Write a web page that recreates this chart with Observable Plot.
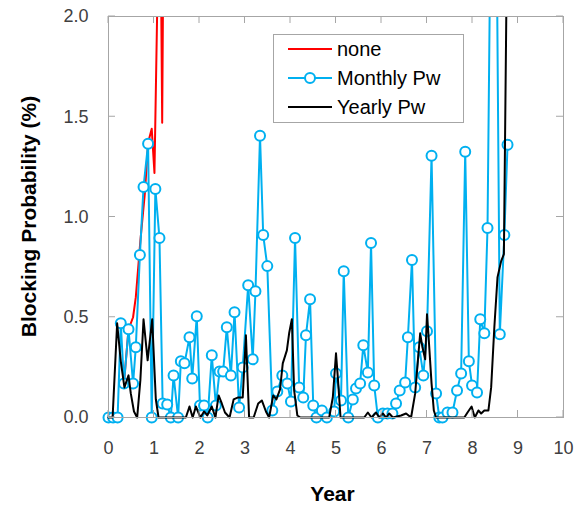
<!DOCTYPE html>
<html>
<head>
<meta charset="utf-8">
<script src="https://cdn.jsdelivr.net/npm/d3@7"></script>
<script src="https://cdn.jsdelivr.net/npm/@observablehq/plot@0.6"></script>
<style>
  html, body { margin: 0; padding: 0; background: #fff; }
  #chart svg { display: block; }
</style>
</head>
<body>
<div id="chart"></div>
<script>
// ---- data ----
const xTicks = [0, 1, 2, 3, 4, 5, 6, 7, 8, 9, 10];
const yTicks = [0, 0.5, 1, 1.5, 2];
const yTickLabels = ["0.0", "0.5", "1.0", "1.5", "2.0"];
const xTitle = "Year";
const yTitle = "Blocking Probability (%)";
const seriesNames = ["none", "Monthly Pw", "Yearly Pw"];

const noneYear = [0.34, 0.44, 0.54, 0.6, 0.7, 0.8, 0.87, 0.95, 1.01, 1.09, 1.15, 1.18, 1.21];
const nonePw   = [0.17, 0.44, 0.5, 0.6, 0.88, 1.12, 1.37, 1.44, 1.22, 2.3, 2.3, 1.47, 2.5];

const monthlyYear = [0, 0.10, 0.20, 0.27, 0.34, 0.44, 0.54, 0.60, 0.69, 0.77, 0.87, 0.95, 1.03, 1.12, 1.19, 1.29,
  1.37, 1.43, 1.53, 1.59, 1.67, 1.78, 1.84, 1.94, 2.01, 2.10, 2.18, 2.27, 2.36, 2.44, 2.52, 2.60, 2.69, 2.77, 2.87,
  2.95, 3.07, 3.17, 3.23, 3.33, 3.40, 3.49, 3.60, 3.71, 3.82, 3.93, 4.01, 4.10, 4.19, 4.28, 4.34, 4.43, 4.50, 4.57,
  4.69, 4.80, 4.96, 5.00, 5.11, 5.17, 5.27, 5.37, 5.44, 5.53, 5.60, 5.70, 5.77, 5.84, 5.92, 6.03, 6.13, 6.24, 6.32,
  6.40, 6.52, 6.58, 6.67, 6.74, 6.83, 6.92, 7.00, 7.10, 7.20, 7.27, 7.34, 7.45, 7.56, 7.66, 7.75, 7.84, 7.92, 7.99,
  8.10, 8.17, 8.26, 8.33, 8.42, 8.51, 8.60, 8.70, 8.77];
const monthlyPw = [0, 0, 0, 0.47, 0.17, 0.44, 0.17, 0.35, 0.81, 1.15, 1.365, 0, 1.14, 0.895, 0.07, 0.065,
  0, 0.21, 0, 0.28, 0.27, 0.40, 0.195, 0.505, 0.06, 0.06, 0, 0.31, 0.06, 0.23, 0.23, 0.45, 0.21, 0.525, 0.05,
  0.25, 0.66, 0.29, 0.63, 1.405, 0.91, 0.755, 0.035, 0.13, 0.21, 0.17, 0.08, 0.895, 0.15, 0.10, 0.41, 0.59, 0.06, 0,
  0.035, 0, 0.03, 0.22, 0.085, 0.73, 0, 0.09, 0.145, 0.17, 0.36, 0.225, 0.87, 0.16, 0, 0.02, 0.02, 0.02, 0.07,
  0.135, 0.175, 0.40, 0.785, 0.15, 0.35, 0.21, 0.43, 1.305, 0.12, 0, 0, 0.025, 0.025, 0.135, 0.22, 1.325, 0.28, 0.16,
  0.125, 0.49, 0.42, 0.945, 3.0, 3.0, 0.415, 0.91, 1.36];

const yearlyYear = [0, 0.09, 0.19, 0.27, 0.35, 0.44, 0.49, 0.56, 0.63, 0.7, 0.77, 0.86, 0.96, 1.04, 1.1, 1.7,
  1.78, 1.85, 1.92, 2.02, 2.1, 2.17, 2.27, 2.35, 2.42, 2.49, 2.56, 2.66, 2.75, 2.85, 2.95, 3.02, 3.09, 3.19, 3.29,
  3.37, 3.46, 3.53, 3.62, 3.69, 3.77, 3.83, 3.92, 3.97, 4.03, 4.08, 4.15, 4.22, 4.85, 4.93, 5.0, 5.04, 5.1, 5.62,
  5.7, 5.78, 5.88, 5.95, 6.03, 6.1, 6.17, 6.25, 6.43, 6.54, 6.65, 6.74, 6.8, 6.85, 6.9, 6.96, 7.0, 7.03, 7.1, 7.15,
  7.2, 7.82, 7.89, 7.98, 8.05, 8.13, 8.19, 8.26, 8.35, 8.41, 8.48, 8.55, 8.63, 8.69, 8.76];
const yearlyPw = [0, 0, 0.47, 0.28, 0.15, 0.21, 0.12, 0.03, 0, 0.185, 0.49, 0.285, 0.49, 0.09, 0, 0,
  0.055, 0, 0.055, 0, 0.03, 0.01, 0.055, 0, 0.11, 0.07, 0.025, 0, 0.09, 0.1, 0.1, 0.41, 0, 0, 0.07,
  0.085, 0.03, 0, 0.11, 0.09, 0.14, 0.27, 0.335, 0.42, 0.49, 0.135, 0.01, 0, 0, 0.1, 0.32, 0.2, 0, 0,
  0.025, 0, 0.025, 0, 0.02, 0, 0.02, 0, 0.01, 0.02, 0, 0.12, 0.285, 0.42, 0.35, 0.29, 0.515, 0.42, 0.17, 0.035,
  0, 0, 0.025, 0.055, 0, 0.035, 0.02, 0.035, 0.035, 0.15, 0.45, 0.70, 0.78, 0.815, 2.4];

// ---- build tables ----
const none = noneYear.map((x, i) => ({x, y: nonePw[i]}));
const monthly = monthlyYear.map((x, i) => ({x, y: monthlyPw[i]}));
const yearly = yearlyYear.map((x, i) => ({x, y: yearlyPw[i]}));

const W = 576, H = 507;
const mL = 108, mR = 13, mT = 16, mB = 90;
const BLUE = "#00B0F0", RED = "#FF0000", BLACK = "#000000", GRAY = "#A6A6A6";

const chart = Plot.plot({
  width: W, height: H,
  marginLeft: mL, marginRight: mR, marginTop: mT, marginBottom: mB,
  style: {fontFamily: "'Liberation Sans', Arial, sans-serif", fontSize: "18px", color: "#404040", background: "white"},
  x: {domain: [0, 10]},
  y: {domain: [0, 2]},
  marks: [
    Plot.axisX(xTicks, {tickSize: 0, tickPadding: 24, label: null, tickFormat: d => String(d)}),
    Plot.axisY(yTicks, {tickSize: 0, tickPadding: 20, label: null, tickFormat: d => yTickLabels[yTicks.indexOf(d)]}),
    Plot.line(none, {x: "x", y: "y", stroke: RED, strokeWidth: 2}),
    Plot.line(monthly, {x: "x", y: "y", stroke: BLUE, strokeWidth: 2}),
    Plot.dot(monthly.filter(d => d.y <= 2), {x: "x", y: "y", r: 5, stroke: BLUE, strokeWidth: 2, fill: "white"}),
    Plot.line(yearly, {x: "x", y: "y", stroke: BLACK, strokeWidth: 2}),
    Plot.frame({stroke: GRAY})
  ]
});
document.getElementById("chart").appendChild(chart);

const svg = d3.select(chart);
const sx = chart.scale("x"), sy = chart.scale("y");
const x0 = sx.apply(0), x1 = sx.apply(10), y0 = sy.apply(0), y1 = sy.apply(2);

// clip lines to plot area (leaving a little room at the bottom, like the original)
const clipId = "plotclip";
svg.append("defs").append("clipPath").attr("id", clipId)
  .append("rect").attr("x", x0 - 4).attr("y", y1).attr("width", x1 - x0 + 8).attr("height", y0 - y1 + 4);
svg.selectAll('g[aria-label="line"]').attr("clip-path", `url(#${clipId})`);

// inside ticks on all four sides
const tk = svg.append("g").attr("stroke", GRAY).attr("stroke-width", 1);
xTicks.forEach(v => {
  const px = sx.apply(v);
  tk.append("line").attr("x1", px).attr("x2", px).attr("y1", y0).attr("y2", y0 - 7);
  tk.append("line").attr("x1", px).attr("x2", px).attr("y1", y1).attr("y2", y1 + 7);
});
yTicks.forEach(v => {
  const py = sy.apply(v);
  tk.append("line").attr("x1", x0).attr("x2", x0 + 7).attr("y1", py).attr("y2", py);
  tk.append("line").attr("x1", x1).attr("x2", x1 - 7).attr("y1", py).attr("y2", py);
});

// axis titles
svg.append("text").text(xTitle)
  .attr("x", (x0 + x1) / 2 - 3).attr("y", 494).attr("dy", "0.35em")
  .attr("text-anchor", "middle").attr("font-weight", "bold").attr("font-size", 21).attr("fill", "#000");
svg.append("text").text(yTitle)
  .attr("transform", `translate(29,${(y0 + y1) / 2}) rotate(-90)`).attr("dy", "0.35em")
  .attr("text-anchor", "middle").attr("font-weight", "bold").attr("font-size", 21).attr("fill", "#000");

// legend
const lg = svg.append("g").attr("text-anchor", "start");
lg.append("rect").attr("x", 273.5).attr("y", 34.5).attr("width", 190).attr("height", 88)
  .attr("fill", "white").attr("stroke", GRAY);
const legColors = [RED, BLUE, BLACK];
const legY = [49, 78, 107];
seriesNames.forEach((name, i) => {
  lg.append("line").attr("x1", 288).attr("x2", 332).attr("y1", legY[i]).attr("y2", legY[i])
    .attr("stroke", legColors[i]).attr("stroke-width", 2);
  if (i === 1) lg.append("circle").attr("cx", 310).attr("cy", legY[i]).attr("r", 5)
    .attr("fill", "white").attr("stroke", BLUE).attr("stroke-width", 2);
  lg.append("text").text(name).attr("x", 337).attr("y", legY[i]).attr("dy", "0.35em")
    .attr("text-anchor", "start").attr("font-size", 20).attr("fill", "#000");
});
</script>
</body>
</html>
